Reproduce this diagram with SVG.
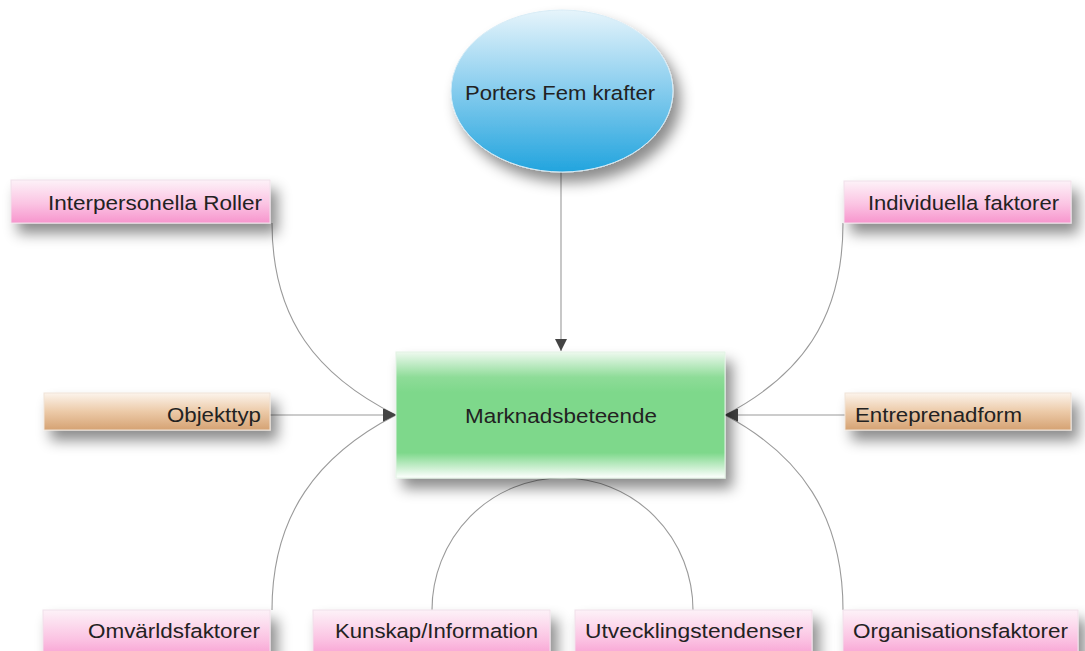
<svg xmlns="http://www.w3.org/2000/svg" width="1085" height="651" viewBox="0 0 1085 651">
  <defs>
    <linearGradient id="gPink" x1="0" y1="0" x2="0" y2="1">
      <stop offset="0" stop-color="#fdf2f8"/>
      <stop offset="0.55" stop-color="#fbc4e3"/>
      <stop offset="1" stop-color="#f795cd"/>
    </linearGradient>
    <linearGradient id="gTan" x1="0" y1="0" x2="0" y2="1">
      <stop offset="0" stop-color="#fcf4ec"/>
      <stop offset="0.5" stop-color="#eccaa8"/>
      <stop offset="1" stop-color="#d5a273"/>
    </linearGradient>
    <linearGradient id="gGreen" x1="0" y1="0" x2="0" y2="1">
      <stop offset="0" stop-color="#eef9ef"/>
      <stop offset="0.2" stop-color="#8edc98"/>
      <stop offset="0.32" stop-color="#7ed88b"/>
      <stop offset="0.8" stop-color="#7ed88b"/>
      <stop offset="1" stop-color="#ffffff"/>
    </linearGradient>
    <linearGradient id="gBlue" x1="0" y1="0" x2="0" y2="1">
      <stop offset="0" stop-color="#e6f4fb"/>
      <stop offset="0.45" stop-color="#8fd0ef"/>
      <stop offset="1" stop-color="#22a4de"/>
    </linearGradient>
    <filter id="shadow" x="-20%" y="-40%" width="150%" height="220%">
      <feDropShadow dx="7" dy="10" stdDeviation="7" flood-color="#000" flood-opacity="0.45"/>
    </filter>
    <marker id="arrowDown" viewBox="0 0 12 12" refX="12" refY="6" markerWidth="12" markerHeight="12" markerUnits="userSpaceOnUse" orient="auto">
      <path d="M0,0 L12,6 L0,12 Z" fill="#444"/>
    </marker>
    <marker id="arrowRight" viewBox="0 0 12 12" refX="12" refY="6" markerWidth="13" markerHeight="13" markerUnits="userSpaceOnUse" orient="0">
      <path d="M0,0 L12,6 L0,12 Z" fill="#444"/>
    </marker>
    <marker id="arrowLeft" viewBox="0 0 12 12" refX="12" refY="6" markerWidth="13" markerHeight="13" markerUnits="userSpaceOnUse" orient="180">
      <path d="M0,0 L12,6 L0,12 Z" fill="#444"/>
    </marker>
  </defs>
  <style>
    .lbl { font-family: "Liberation Sans", Arial, sans-serif; font-size: 20.5px; fill: #222; }
    .pink { fill: url(#gPink); stroke: #f0e0ea; stroke-width: 1; filter: url(#shadow); }
    .tan { fill: url(#gTan); stroke: #efe3d8; stroke-width: 1; filter: url(#shadow); }
    .conn { fill: none; stroke: #9a9a9a; stroke-width: 1.1; }
  </style>

  <rect width="1085" height="651" fill="#ffffff"/>

  <!-- connectors -->
  <g id="connectors">
    <path class="conn" d="M561,172 L561,351" marker-end="url(#arrowDown)"/>
    <path class="conn" d="M272,223 C272,320 318,376 396,415" marker-end="url(#arrowRight)"/>
    <path class="conn" d="M270,415 L396,415" marker-end="url(#arrowRight)"/>
    <path class="conn" d="M272,610 C272,515 318,455 396,415" marker-end="url(#arrowRight)"/>
    <path class="conn" d="M843,223 C843,320 800,376 725,415" marker-end="url(#arrowLeft)"/>
    <path class="conn" d="M845,415 L725,415" marker-end="url(#arrowLeft)"/>
    <path class="conn" d="M843,610 C843,515 800,455 725,415" marker-end="url(#arrowLeft)"/>
    <path class="conn" d="M432,610 A130,132 0 0 1 562,478"/>
    <path class="conn" d="M693,610 A130,132 0 0 0 562,478"/>
  </g>

  <g id="porters">
    <ellipse cx="562" cy="91" rx="111" ry="81" fill="url(#gBlue)" stroke="#d8ecf6" stroke-width="1" filter="url(#shadow)"/>
    <text class="lbl" x="560" y="100" text-anchor="middle" textLength="190" lengthAdjust="spacingAndGlyphs">Porters Fem krafter</text>
  </g>

  <g id="marknadsbeteende">
    <rect x="396" y="352" width="329" height="126" fill="url(#gGreen)" stroke="#e2f2e4" stroke-width="1" filter="url(#shadow)"/>
    <text class="lbl" x="561" y="423" text-anchor="middle" font-size="21" textLength="192" lengthAdjust="spacingAndGlyphs">Marknadsbeteende</text>
  </g>

  <g id="interpersonella">
    <rect class="pink" x="11" y="180" width="259" height="43"/>
    <text class="lbl" x="262" y="210" text-anchor="end" textLength="214" lengthAdjust="spacingAndGlyphs">Interpersonella Roller</text>
  </g>

  <g id="individuella">
    <rect class="pink" x="844" y="181" width="227" height="42"/>
    <text class="lbl" x="868" y="210" textLength="191" lengthAdjust="spacingAndGlyphs">Individuella faktorer</text>
  </g>

  <g id="objekttyp">
    <rect class="tan" x="44" y="393" width="226" height="37"/>
    <text class="lbl" x="261" y="422" text-anchor="end" textLength="94" lengthAdjust="spacingAndGlyphs">Objekttyp</text>
  </g>

  <g id="entreprenadform">
    <rect class="tan" x="845" y="393" width="226" height="37"/>
    <text class="lbl" x="855" y="422" textLength="167" lengthAdjust="spacingAndGlyphs">Entreprenadform</text>
  </g>

  <g id="omvarldsfaktorer">
    <rect class="pink" x="43" y="610" width="227" height="52"/>
    <text class="lbl" x="260" y="638" text-anchor="end" textLength="172" lengthAdjust="spacingAndGlyphs">Omvärldsfaktorer</text>
  </g>

  <g id="kunskap">
    <rect class="pink" x="313" y="610" width="237" height="52"/>
    <text class="lbl" x="335" y="638" textLength="203" lengthAdjust="spacingAndGlyphs">Kunskap/Information</text>
  </g>

  <g id="utveckling">
    <rect class="pink" x="575" y="610" width="237" height="52"/>
    <text class="lbl" x="585" y="638" textLength="218" lengthAdjust="spacingAndGlyphs">Utvecklingstendenser</text>
  </g>

  <g id="organisation">
    <rect class="pink" x="843" y="610" width="235" height="52"/>
    <text class="lbl" x="853" y="638" textLength="215" lengthAdjust="spacingAndGlyphs">Organisationsfaktorer</text>
  </g>
</svg>
